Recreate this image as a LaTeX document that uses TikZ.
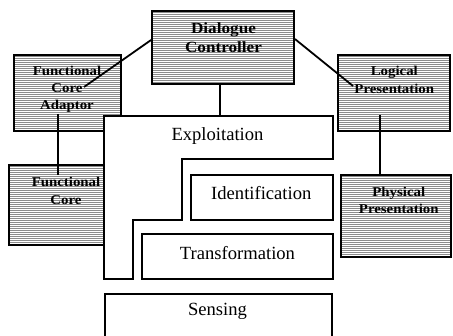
\documentclass[tikz,border=0pt]{standalone}
\usepackage{fontspec}
\setmainfont{Liberation Serif}
\newfontfamily\stretchserif{Liberation Serif}[FakeStretch=1.1]
\usetikzlibrary{patterns.meta}
\tikzset{
  box/.style={draw=black, line width=1.8pt, inner sep=0pt, fill=white},
  shbox/.style={draw=black, line width=1.8pt, inner sep=0pt,
    preaction={fill=white},
    pattern={Lines[angle=0, distance=2pt, line width=0.9pt]}, pattern color=black!45},
  conn/.style={draw=black, line width=1.8pt},
  btxt/.style={anchor=base, inner sep=0pt, align=center,
    font=\stretchserif\bfseries\fontsize{13.5}{17.4}\selectfont},
  bigbtxt/.style={anchor=base, inner sep=0pt, align=center,
    font=\stretchserif\bfseries\fontsize{15.6}{19}\selectfont},
  rtxt/.style={anchor=base, inner sep=0pt,
    font=\fontsize{18.6}{22}\selectfont}
}
\begin{document}
\begin{tikzpicture}[x=1pt, y=-1pt]
\useasboundingbox (0,0) rectangle (453,336);
\clip (0,0) rectangle (453,336);
% shaded boxes
\node[shbox, minimum width=107pt, minimum height=76pt] (fca) at (67.5,93) {};
\node[shbox, minimum width=112pt, minimum height=76pt] (lp) at (394,93) {};
\node[shbox, minimum width=142pt, minimum height=73pt] (dc) at (223,47.5) {};
\node[shbox, minimum width=95pt, minimum height=80pt] (fc) at (56.5,205) {};
\node[shbox, minimum width=110pt, minimum height=82pt] (pp) at (396,216) {};
% connector end points
\coordinate (fcaEnd) at (84,87);
\coordinate (lpEnd) at (353,86);
\coordinate (dcDown) at (220,84);
\coordinate (exTop) at (220,116);
\coordinate (fcaLow) at (58,114);
\coordinate (fcTxt) at (58,175);
\coordinate (lpLow) at (380,115);
\coordinate (ppTop) at (380,175);
% white layer boxes
\draw[box] (104,116) -- (333,116) -- (333,159) -- (182,159) -- (182,220)
  -- (133,220) -- (133,279) -- (104,279) -- cycle;
\node[box, minimum width=142pt, minimum height=45pt] (idb) at (262,197.5) {};
\node[box, minimum width=191pt, minimum height=45pt] (trb) at (237.5,256.5) {};
\node[box, minimum width=227pt, minimum height=52pt] (seb) at (218.5,320) {};
% connectors
\draw[conn] ([yshift=7.5pt]dc.west) -- (fcaEnd);
\draw[conn] ([yshift=8.5pt]dc.east) -- (lpEnd);
\draw[conn] (dcDown) -- (exTop);
\draw[conn] (fcaLow) -- (fcTxt);
\draw[conn] (lpLow) -- (ppTop);
% texts (anchor base = baseline of the last line)
\node[btxt] (fcat) at (67,110) {Functional\\Core\\Adaptor};
\node[bigbtxt] (dct) at (223.5,52.3) {Dialogue\\Controller};
\node[btxt] (lpt) at (394.3,93.3) {Logical\\Presentation};
\node[btxt] (fct) at (66,204.3) {Functional\\Core};
\node[btxt] (ppt) at (398.8,213.7) {Physical\\Presentation};
\node[rtxt] (ext) at (217.5,140.7) {Exploitation};
\node[rtxt] (idt) at (261.3,200) {Identification};
\node[rtxt] (trt) at (237.5,260) {Transformation};
\node[rtxt] (set) at (217.5,316) {Sensing};
\end{tikzpicture}
\end{document}
